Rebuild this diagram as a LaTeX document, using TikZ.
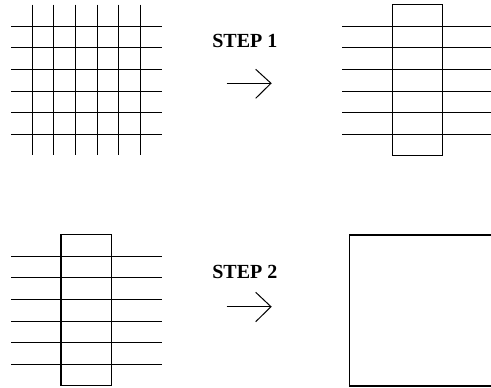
\documentclass[tikz,border=0pt]{standalone}
\usepackage{fontspec}
\setmainfont{Liberation Serif}
\begin{document}
\begin{tikzpicture}[x=1pt,y=-1pt,
  gridline/.style={line width=0.9pt,black},
  boxline/.style={line width=1.1pt,black},
  bigbox/.style={line width=1.6pt,black},
  steplabel/.style={font=\fontsize{20}{22}\selectfont\bfseries,anchor=base,inner sep=0pt},
  arrowline/.style={line width=1pt,black}]
\useasboundingbox (0,0) rectangle (491,388);
\clip (0,0) rectangle (491,388);
% top-left full grid
\foreach \i in {0,...,5} {
  \draw[gridline] ({32.3+21.6*\i},4.7) -- ({32.3+21.6*\i},155);
  \draw[gridline] (11,{26+21.66*\i}) -- (162.3,{26+21.66*\i});
}
% top-right: rows with strip
\foreach \i in {0,...,5} {
  \draw[gridline] (342,{26+21.66*\i}) -- (493,{26+21.66*\i});
}
\draw[boxline,fill=white] (392.7,4.7) rectangle (442.7,155.3);
\foreach \i in {0,...,5} {
  \draw[gridline] (392.7,{26+21.66*\i}) -- (442.7,{26+21.66*\i});
}
% bottom-left
\foreach \i in {0,...,5} {
  \draw[gridline] (11,{256+21.66*\i}) -- (162.3,{256+21.66*\i});
}
\draw[boxline] (61,234.7) rectangle (111.3,385.7);
% bottom-right
\draw[bigbox] (349.3,235) rectangle (499.5,385.7);
% labels
\node[steplabel] (s1) at (244.8,47.3) {STEP 1};
\node[steplabel] (s2) at (244.8,278.3) {STEP 2};
% arrows
\coordinate (a1s) at (226.7,83.3);
\coordinate (a1e) at (271,83.3);
\draw[arrowline] (a1s) -- (a1e);
\draw[arrowline] (255.7,69.3) -- (a1e) -- (255.7,98.3);
\coordinate (a2s) at (226.7,306.7);
\coordinate (a2e) at (271,306.7);
\draw[arrowline] (a2s) -- (a2e);
\draw[arrowline] (255.7,292.3) -- (a2e) -- (255.7,321.7);
\end{tikzpicture}
\end{document}
